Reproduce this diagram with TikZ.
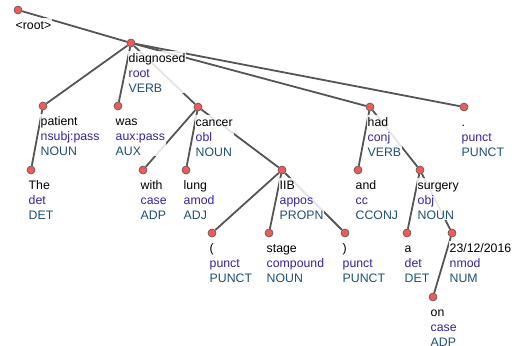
\documentclass[tikz,border=0pt]{standalone}
\usepackage{fontspec}
\setmainfont{Liberation Sans}
\definecolor{edgec}{HTML}{555555}
\definecolor{relc}{HTML}{3A22A0}
\definecolor{posc}{HTML}{1F4F75}
\definecolor{dotc}{HTML}{EE5B5B}
\pgfdeclarelayer{bg}\pgfdeclarelayer{fg}\pgfsetlayers{bg,main,fg}
\tikzset{
 tokdot/.style={circle,fill=dotc,draw=edgec,line width=0.6pt,minimum size=8pt,inner sep=0pt},
 toklabel/.style={anchor=north west,inner sep=1pt,align=left,font=\fontsize{12.3}{15}\selectfont,fill=white,fill opacity=0.85,text opacity=1},
 dep/.style={draw=edgec,line width=1.8pt},
}
\newcommand\tokn[6]{%
 \begin{pgfonlayer}{fg}\node[tokdot] (#1) at (#2,#3) {};\end{pgfonlayer}
 \node[toklabel] (#1-l) at (#2-3.5,#3+8) {\rule{0pt}{10pt}#4\\\textcolor{relc}{#5}\\\textcolor{posc}{#6}};}
\begin{document}
\begin{tikzpicture}[x=1pt,y=-1pt]
\useasboundingbox (0,0) rectangle (518,345);
\begin{pgfonlayer}{fg}\node[tokdot] (root) at (18,10) {};\end{pgfonlayer}
\node[toklabel] (root-l) at (14.5,18) {\rule{0pt}{10pt}<root>};
\tokn{diagnosed}{131}{43}{diagnosed}{root}{VERB}
\tokn{patient}{43}{106}{patient}{nsubj:pass}{NOUN}
\tokn{was}{118}{106}{was}{aux:pass}{AUX}
\tokn{cancer}{198}{107}{cancer}{obl}{NOUN}
\tokn{had}{370}{107}{had}{conj}{VERB}
\tokn{dot}{464}{107}{.}{punct}{PUNCT}
\tokn{the}{31}{170}{The}{det}{DET}
\tokn{with}{143}{170}{with}{case}{ADP}
\tokn{lung}{186}{170}{lung}{amod}{ADJ}
\tokn{iib}{282}{170}{IIB}{appos}{PROPN}
\tokn{and}{358}{170}{and}{cc}{CCONJ}
\tokn{surgery}{420}{170}{surgery}{obj}{NOUN}
\tokn{lpar}{212}{233}{(}{punct}{PUNCT}
\tokn{stage}{269}{233}{stage}{compound}{NOUN}
\tokn{rpar}{345}{233}{)}{punct}{PUNCT}
\tokn{a}{407}{233}{a}{det}{DET}
\tokn{date}{452}{233}{23/12/2016}{nmod}{NUM}
\tokn{on}{433}{297}{on}{case}{ADP}
\begin{pgfonlayer}{bg}
\draw[dep] (root) -- (diagnosed);
\draw[dep] (diagnosed) -- (patient);
\draw[dep] (diagnosed) -- (was);
\draw[dep] (diagnosed) -- (cancer);
\draw[dep] (diagnosed) -- (had);
\draw[dep] (diagnosed) -- (dot);
\draw[dep] (patient) -- (the);
\draw[dep] (cancer) -- (with);
\draw[dep] (cancer) -- (lung);
\draw[dep] (cancer) -- (iib);
\draw[dep] (iib) -- (lpar);
\draw[dep] (iib) -- (stage);
\draw[dep] (iib) -- (rpar);
\draw[dep] (had) -- (and);
\draw[dep] (had) -- (surgery);
\draw[dep] (surgery) -- (a);
\draw[dep] (surgery) -- (date);
\draw[dep] (date) -- (on);
\end{pgfonlayer}
\end{tikzpicture}
\end{document}
